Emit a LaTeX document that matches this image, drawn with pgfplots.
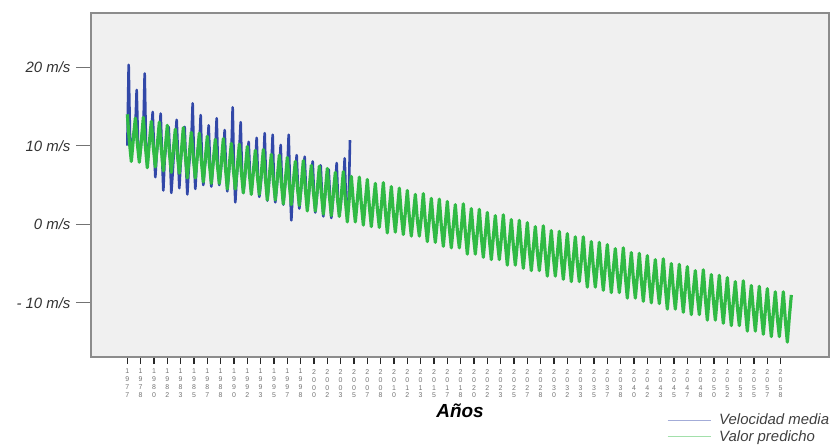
\documentclass[border=0pt]{standalone}
\usepackage{fontspec}
\setmainfont{Liberation Sans}
\usepackage{pgfplots}
\pgfplotsset{compat=1.18}
\definecolor{cblue}{RGB}{50,72,168}
\definecolor{cgreen}{RGB}{48,186,68}
\begin{document}
\begin{tikzpicture}
\useasboundingbox (-91bp,-89bp) rectangle (748bp,357bp);
\begin{axis}[
  at={(0,0)}, anchor=south west,
  scale only axis, width=738bp, height=344bp,
  xmin=-54.5, xmax=1052.5, ymin=-16.9, ymax=26.9,
  axis background/.style={fill=black!6},
  axis line style={draw=black!45, line width=1.1bp},
  tick align=outside, xtick pos=bottom, ytick pos=left,
  major tick length=7bp,
  xtick style={draw=black!85, line width=1.3bp},
  ytick style={draw=black!55, line width=0.9bp, /pgfplots/major tick length=15bp},
  xtick={0,20,...,980},
  xticklabels={{1\\9\\7\\7},{1\\9\\7\\8},{1\\9\\8\\0},{1\\9\\8\\2},{1\\9\\8\\3},{1\\9\\8\\5},{1\\9\\8\\7},{1\\9\\8\\8},{1\\9\\9\\0},{1\\9\\9\\2},
  {1\\9\\9\\3},{1\\9\\9\\5},{1\\9\\9\\7},{1\\9\\9\\8},{2\\0\\0\\0},{2\\0\\0\\2},{2\\0\\0\\3},{2\\0\\0\\5},{2\\0\\0\\7},{2\\0\\0\\8},
  {2\\0\\1\\0},{2\\0\\1\\2},{2\\0\\1\\3},{2\\0\\1\\5},{2\\0\\1\\7},{2\\0\\1\\8},{2\\0\\2\\0},{2\\0\\2\\2},{2\\0\\2\\3},{2\\0\\2\\5},
  {2\\0\\2\\7},{2\\0\\2\\8},{2\\0\\3\\0},{2\\0\\3\\2},{2\\0\\3\\3},{2\\0\\3\\5},{2\\0\\3\\7},{2\\0\\3\\8},{2\\0\\4\\0},{2\\0\\4\\2},
  {2\\0\\4\\3},{2\\0\\4\\5},{2\\0\\4\\7},{2\\0\\4\\8},{2\\0\\5\\0},{2\\0\\5\\2},{2\\0\\5\\3},{2\\0\\5\\5},{2\\0\\5\\7},{2\\0\\5\\8}},
  xticklabel style={align=center, font=\fontsize{7}{8}\selectfont, text=black!55, inner sep=0pt, anchor=north, yshift=-5bp},
  ytick={-10,0,10,20},
  yticklabels={- 10 m/s, 0 m/s, 10 m/s, 20 m/s},
  yticklabel style={font=\fontsize{15}{17}\selectfont\itshape, text=black!80, xshift=-10bp},
  xlabel={Años},
  xlabel style={at={(axis description cs:0.5,-0.157)}, anchor=center, font=\fontsize{19}{21}\selectfont\bfseries\itshape},
  legend style={at={(axis description cs:0.7805,-0.162)}, anchor=north west, draw=none, fill=none,
    font=\fontsize{15}{17}\selectfont\itshape, text=black!75, inner sep=0pt, row sep=2bp,
    nodes={inner sep=1bp}},
  legend cell align=left,
  legend image code/.code={\draw[#1, line width=0.8bp, opacity=0.45] (0bp,0bp) -- (43bp,0bp); \path (49bp,0bp);},
]
\addplot[cblue, line width=2.6bp, line join=round] coordinates {
(0,10.0)(2,20.3)(4,11.2)(6,9.3)(8,10.4)(10,11.8)
(12,12.3)(14,17.1)(16,10.5)(18,8.2)(20,9.6)(22,11.5)
(24,11.9)(26,19.2)(28,10.2)(30,7.3)(32,9.8)(34,10.9)
(36,11.4)(38,14.3)(40,9.8)(42,6.0)(44,8.9)(46,10.6)
(48,11.2)(50,14.1)(52,9.0)(54,4.3)(56,8.2)(58,10.0)
(60,10.5)(62,12.4)(64,8.6)(66,4.0)(68,6.5)(70,9.5)
(72,10.8)(74,13.3)(76,8.9)(78,4.6)(80,7.8)(82,9.9)
(84,10.2)(86,12.4)(88,7.5)(90,3.8)(92,6.9)(94,9.0)
(96,10.6)(98,15.4)(100,8.2)(102,4.5)(104,7.7)(106,9.6)
(108,9.8)(110,13.9)(112,8.0)(114,5.0)(116,7.2)(118,8.5)
(120,9.5)(122,12.6)(124,7.9)(126,4.8)(128,7.0)(130,8.8)
(132,9.6)(134,13.5)(136,7.4)(138,5.0)(140,6.6)(142,8.4)
(144,8.9)(146,12.0)(148,7.1)(150,4.2)(152,6.2)(154,8.1)
(156,8.8)(158,14.9)(160,6.8)(162,2.8)(164,5.9)(166,7.9)
(168,9.5)(170,13.0)(172,6.6)(174,4.0)(176,5.5)(178,7.6)
(180,8.0)(182,10.5)(184,6.3)(186,4.3)(188,5.8)(190,7.4)
(192,7.9)(194,11.0)(196,5.9)(198,3.5)(200,5.0)(202,7.0)
(204,7.5)(206,11.6)(208,5.8)(210,3.0)(212,4.7)(214,6.8)
(216,7.4)(218,11.4)(220,5.3)(222,2.8)(224,4.6)(226,6.5)
(228,6.9)(230,10.1)(232,5.1)(234,2.5)(236,4.3)(238,6.0)
(240,6.8)(242,11.4)(244,4.9)(246,0.5)(248,4.0)(250,5.9)
(252,6.4)(254,8.8)(256,4.5)(258,2.0)(260,3.8)(262,5.6)
(264,6.2)(266,8.6)(268,4.3)(270,1.8)(272,3.5)(274,5.4)
(276,5.8)(278,8.0)(280,4.0)(282,1.5)(284,3.2)(286,5.0)
(288,5.5)(290,7.5)(292,3.8)(294,1.0)(296,3.0)(298,4.8)
(300,5.2)(302,7.0)(304,3.5)(306,0.8)(308,2.6)(310,4.5)
(312,5.0)(314,7.8)(316,3.2)(318,1.2)(320,2.4)(322,4.3)
(324,4.8)(326,8.4)(328,3.0)(330,1.5)(332,2.6)(334,10.7)
};
\addlegendentry{Velocidad media}
\addplot[cgreen, line width=3.2bp, line join=round] coordinates {
(0,14.0)(3,10.6)(6,8.0)(9,10.9)
(12,13.5)(15,10.3)(18,7.9)(21,10.6)
(24,13.6)(27,10.0)(30,7.2)(33,10.4)
(36,13.1)(39,9.8)(42,7.3)(45,10.1)
(48,13.0)(51,9.5)(54,6.8)(57,9.8)
(60,12.6)(63,9.2)(66,6.6)(69,9.5)
(72,12.1)(75,8.9)(78,6.5)(81,9.2)
(84,12.3)(87,8.7)(90,5.9)(93,9.0)
(96,11.7)(99,8.4)(102,5.9)(105,8.7)
(108,11.6)(111,8.1)(114,5.4)(117,8.4)
(120,11.2)(123,7.8)(126,5.2)(129,8.1)
(132,10.8)(135,7.6)(138,5.2)(141,7.9)
(144,10.9)(147,7.3)(150,4.5)(153,7.6)
(156,10.3)(159,7.0)(162,4.5)(165,7.3)
(168,10.2)(171,6.7)(174,4.0)(177,7.0)
(180,9.9)(183,6.5)(186,3.8)(189,6.7)
(192,9.4)(195,6.2)(198,3.8)(201,6.5)
(204,9.5)(207,5.9)(210,3.1)(213,6.2)
(216,8.9)(219,5.6)(222,3.1)(225,5.9)
(228,8.8)(231,5.3)(234,2.6)(237,5.6)
(240,8.5)(243,5.1)(246,2.5)(249,5.4)
(252,8.0)(255,4.8)(258,2.4)(261,5.1)
(264,8.1)(267,4.5)(270,1.7)(273,4.8)
(276,7.5)(279,4.2)(282,1.7)(285,4.5)
(288,7.4)(291,4.0)(294,1.3)(297,4.3)
(300,7.1)(303,3.7)(306,1.1)(309,4.0)
(312,6.6)(315,3.4)(318,1.0)(321,3.7)
(324,6.7)(327,3.1)(330,0.3)(333,3.4)
(336,6.1)(339,2.8)(342,0.3)(345,3.1)
(348,6.0)(351,2.6)(354,-0.1)(357,2.9)
(360,5.7)(363,2.3)(366,-0.3)(369,2.6)
(372,5.2)(375,2.0)(378,-0.4)(381,2.3)
(384,5.3)(387,1.7)(390,-1.1)(393,2.0)
(396,4.8)(399,1.5)(402,-1.0)(405,1.8)
(408,4.6)(411,1.2)(414,-1.3)(417,1.5)
(420,4.3)(423,0.9)(426,-1.5)(429,1.2)
(432,3.8)(435,0.6)(438,-1.5)(441,0.9)
(444,3.9)(447,0.3)(450,-2.2)(453,0.6)
(456,3.3)(459,0.1)(462,-2.3)(465,0.4)
(468,3.2)(471,-0.2)(474,-2.8)(477,0.1)
(480,2.9)(483,-0.5)(486,-3.0)(489,-0.2)
(492,2.5)(495,-0.8)(498,-3.0)(501,-0.5)
(504,2.6)(507,-1.0)(510,-3.8)(513,-0.7)
(516,2.0)(519,-1.3)(522,-3.8)(525,-1.0)
(528,1.9)(531,-1.6)(534,-4.2)(537,-1.3)
(540,1.5)(543,-1.9)(546,-4.5)(549,-1.6)
(552,1.1)(555,-2.1)(558,-4.5)(561,-1.8)
(564,1.2)(567,-2.4)(570,-5.2)(573,-2.1)
(576,0.6)(579,-2.7)(582,-5.2)(585,-2.4)
(588,0.5)(591,-3.0)(594,-5.6)(597,-2.7)
(600,0.2)(603,-3.3)(606,-5.9)(609,-3.0)
(612,-0.3)(615,-3.5)(618,-5.9)(621,-3.2)
(624,-0.2)(627,-3.8)(630,-6.6)(633,-3.5)
(636,-0.8)(639,-4.1)(642,-6.6)(645,-3.8)
(648,-0.9)(651,-4.4)(654,-7.0)(657,-4.1)
(660,-1.2)(663,-4.6)(666,-7.3)(669,-4.3)
(672,-1.6)(675,-4.9)(678,-7.3)(681,-4.6)
(684,-1.6)(687,-5.2)(690,-8.0)(693,-4.9)
(696,-2.2)(699,-5.5)(702,-8.0)(705,-5.2)
(708,-2.3)(711,-5.8)(714,-8.4)(717,-5.4)
(720,-2.6)(723,-6.0)(726,-8.7)(729,-5.7)
(732,-3.1)(735,-6.3)(738,-8.7)(741,-6.0)
(744,-3.0)(747,-6.6)(750,-9.4)(753,-6.3)
(756,-3.6)(759,-6.9)(762,-9.4)(765,-6.6)
(768,-3.7)(771,-7.1)(774,-9.8)(777,-6.8)
(780,-4.0)(783,-7.4)(786,-10.0)(789,-7.1)
(792,-4.5)(795,-7.7)(798,-10.1)(801,-7.4)
(804,-4.4)(807,-8.0)(810,-10.8)(813,-7.7)
(816,-5.0)(819,-8.3)(822,-10.8)(825,-7.9)
(828,-5.1)(831,-8.5)(834,-11.2)(837,-8.2)
(840,-5.4)(843,-8.8)(846,-11.5)(849,-8.5)
(852,-5.9)(855,-9.1)(858,-11.5)(861,-8.8)
(864,-5.8)(867,-9.4)(870,-12.2)(873,-9.0)
(876,-6.4)(879,-9.6)(882,-12.2)(885,-9.3)
(888,-6.5)(891,-9.9)(894,-12.6)(897,-9.6)
(900,-6.8)(903,-10.2)(906,-12.9)(909,-9.9)
(912,-7.3)(915,-10.5)(918,-12.9)(921,-10.2)
(924,-7.2)(927,-10.8)(930,-13.6)(933,-10.4)
(936,-7.8)(939,-11.0)(942,-13.6)(945,-10.7)
(948,-7.9)(951,-11.3)(954,-14.0)(957,-11.0)
(960,-8.2)(963,-11.6)(966,-14.3)(969,-11.3)
(972,-8.6)(975,-11.9)(978,-14.3)(981,-11.5)
(984,-8.6)(987,-12.2)(990,-15.0)(993,-11.8)
(996,-9.0)
};
\addlegendentry{Valor predicho}
\end{axis}
\end{tikzpicture}
\end{document}
